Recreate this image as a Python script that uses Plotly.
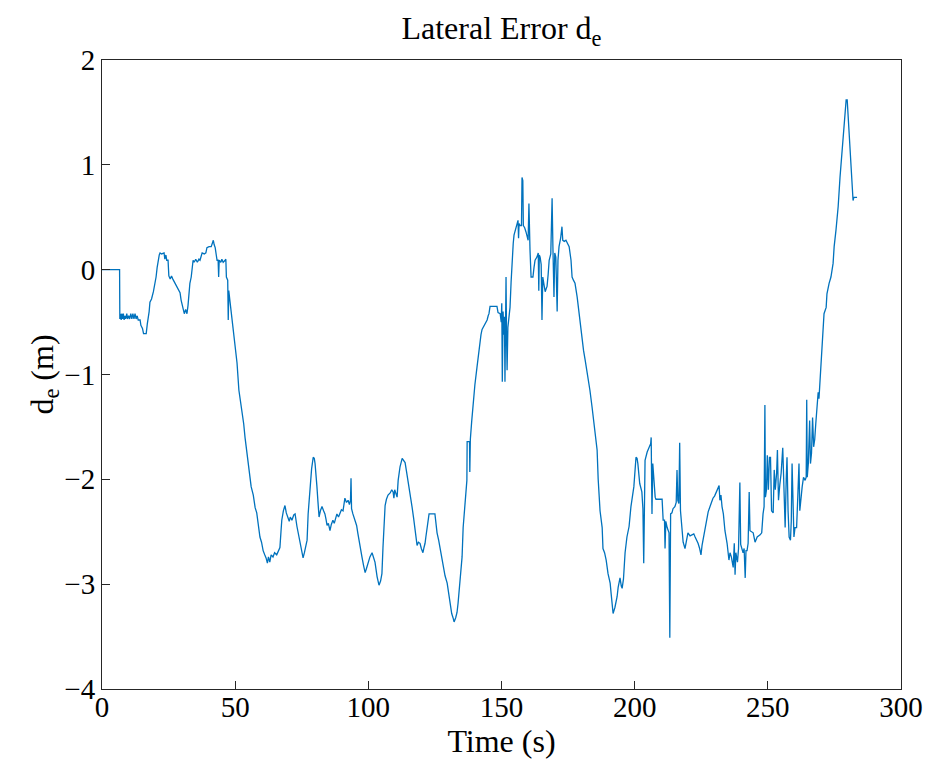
import plotly.graph_objects as go

# Lateral error trace: time (s) and lateral error d_e (m)
time_s = [
    0, 6.6, 6.7, 7.0, 7.2, 7.5, 7.7, 8.0, 8.3, 8.6, 8.9, 9.3, 9.6, 10.0, 10.4, 10.8, 11.2, 11.6, 12.0, 12.4,
    12.8, 13.2, 13.6, 14.3, 14.6, 15.2, 15.6, 16.6, 17.0, 17.3, 17.7, 18.0, 18.6, 19.3, 19.8, 20.3, 20.7, 21.1,
    21.5, 21.8, 22.4, 23.3, 23.6, 24.0, 24.3, 24.8, 25.1, 25.6, 26.1, 26.6, 27.2, 28.1, 28.7, 29.3, 29.7, 30.1,
    30.6, 30.9, 31.4, 31.9, 32.3, 32.7, 33.0, 33.5, 33.9, 34.2, 34.6, 35.2, 35.8, 36.4, 36.8, 37.3, 37.6, 38.4,
    39.0, 39.4, 40.2, 41.0, 41.5, 41.8, 42.1, 42.5, 42.9, 43.2, 43.6, 43.8, 44.0, 44.6, 45.0, 45.5, 46.2, 46.5,
    46.7, 47.2, 47.4, 47.6, 48.0, 48.6, 49.2, 50.0, 50.7,
    51.4, 52.0, 52.6, 53.2, 53.7, 54.3, 54.8, 55.3, 56.0, 56.8, 57.5, 58.1, 58.6, 59.3, 59.9, 60.5, 61.1, 61.6,
    62.1, 62.5, 63.0, 63.5, 64.2, 64.8, 65.6, 66.2, 66.8, 67.2, 67.5, 68.1, 68.7, 69.2, 69.8, 70.3, 70.7, 71.3,
    72.0, 72.5, 73.2, 73.8, 74.4, 75.0, 75.5, 76.0, 76.5, 77.0, 77.4, 78.1, 78.7, 79.3, 79.7, 80.0, 80.4, 80.7,
    81.1, 81.5, 82.0, 82.6, 83.2, 83.7, 84.1, 84.5, 85.0, 85.6, 86.1, 86.7, 87.2, 87.6, 88.2, 88.8, 89.4, 89.9,
    90.5, 90.9, 91.2, 91.8, 92.4, 92.9, 93.3, 93.5, 93.7, 94.2, 95.0, 95.6, 96.1, 96.9, 97.6, 98.2, 98.8, 99.3,
    99.9, 100.6, 101.4, 102.0, 102.5, 103.3, 104.0, 104.6, 105.1, 105.5, 105.9, 106.3, 106.8, 107.4, 108.2,
    108.8, 109.3, 109.6, 109.9, 110.3, 110.8, 111.2, 111.9, 112.7, 113.2, 113.8, 114.3, 114.9, 115.6, 116.4,
    117.0, 117.5, 117.9, 118.3, 118.8, 119.4, 119.9, 120.5, 120.9, 121.3, 121.6, 122.0, 122.4, 122.8, 125.0,
    125.4, 125.8, 126.4, 126.9, 127.5, 128.0, 128.8, 129.6, 130.2, 130.7, 131.3, 131.8, 132.2, 132.8, 133.3,
    133.7, 134.1, 134.4, 134.8, 135.2, 135.6, 136.3, 136.7, 137.0, 137.1, 138.0, 138.1, 138.3, 138.8, 139.3,
    140.0, 140.8, 141.4, 141.9, 142.3, 142.7, 143.1, 143.7, 144.6, 145.0, 145.3, 145.7, 148.3, 148.7, 149.5,
    149.9, 150.1, 150.3, 150.6, 150.9, 151.1, 151.3, 151.5, 151.7, 151.9, 152.1, 152.4, 152.8, 153.2, 153.6,
    154.0, 154.4, 154.7, 155.1, 155.5, 155.9, 156.2, 156.4, 156.6, 157.0, 157.5, 157.7, 158.0, 158.2, 158.7,
    159.2, 159.7, 160.0, 160.3, 160.5, 160.7, 161.1, 161.8, 162.2, 162.6, 163.3, 163.8, 164.0, 164.2, 164.5,
    164.9, 165.2, 165.5, 166.0, 166.4, 166.8, 167.1, 167.5, 167.9, 168.5, 169.0, 169.3, 169.7, 170.0, 170.4,
    170.9, 171.2, 171.6, 172.2, 172.7, 173.0, 173.6, 174.2, 174.8, 175.4, 176.1, 176.5, 177.0, 177.6, 178.4,
    179.1, 179.7, 180.2, 180.8, 181.4, 182.0, 182.5, 183.2, 184.0, 184.8, 185.4, 185.9, 186.3, 186.7, 187.0,
    187.8, 188.1, 188.7, 189.3, 190.0, 190.8, 191.2, 191.5, 191.9, 192.6, 193.4, 193.8, 194.5, 195.0, 195.3,
    195.8, 196.4, 197.1, 197.9, 198.6, 199.2, 199.7, 200.5, 200.9, 201.2, 201.9, 202.7, 203.1, 203.4, 203.6,
    203.9, 204.7, 205.4, 206.0, 206.2, 206.5, 206.8, 207.2, 207.7, 208.0, 210.3, 210.7, 211.2, 211.4, 211.7,
    212.2, 212.9, 213.2, 213.5, 214.0, 214.4, 215.1, 215.6, 215.9, 216.2, 216.6, 216.9, 217.2, 217.8, 218.2,
    218.9, 219.5, 220.0, 220.8, 221.6, 222.2, 222.7, 223.3, 223.8, 224.4, 224.9, 225.3, 225.7, 226.3, 226.8,
    227.6, 228.7, 229.4, 230.0, 230.6, 231.1, 231.7, 232.0, 232.4, 232.8, 233.3, 233.9, 234.7, 235.4, 235.8,
    236.3, 237.0, 237.4, 237.7, 238.0, 238.6, 239.0, 239.5, 239.8, 240.3, 240.7, 241.1, 241.5, 241.8, 242.2,
    242.6, 243.0, 243.3, 244.0, 244.5, 245.2, 246.0, 247.1, 247.7, 248.2, 248.6, 248.9, 249.1, 249.5, 249.8,
    250.2, 250.6, 251.0, 251.4, 252.0, 252.4, 252.8, 253.3, 253.6, 254.0, 254.5, 255.0, 255.6, 256.0, 256.5,
    256.9, 257.2, 257.6, 258.0, 258.5, 258.8, 259.1, 259.4, 259.8, 260.2, 260.8, 261.2, 261.7, 262.0, 262.5,
    262.9, 263.4, 264.0, 264.4, 264.6, 264.8, 265.2, 265.7, 266.0, 266.4, 266.8, 267.2, 267.6, 268.0, 268.6,
    268.9, 269.2, 269.6, 270.0, 270.4, 270.7, 271.1, 271.9, 272.2, 273.0, 273.7, 274.5, 274.9, 275.6, 276.4,
    277.1, 277.9, 278.3, 279.0, 279.4, 279.8, 280.1, 280.5, 280.9, 281.3, 281.6, 282.0, 282.3, 283.5,
]

lateral_err = [
    0, 0, -0.47, -0.42, -0.48, -0.42, -0.47, -0.42, -0.48, -0.44, -0.47, -0.42, -0.47, -0.44, -0.47, -0.42, -0.47, -0.42, -0.47, -0.42,
    -0.47, -0.44, -0.48, -0.48, -0.53, -0.56, -0.61, -0.61, -0.52, -0.48, -0.40, -0.31, -0.28, -0.21, -0.15, -0.07, 0.02, 0.09,
    0.14, 0.16, 0.15, 0.16, 0.10, 0.14, 0.09, 0.09, -0.06, -0.09, -0.06, -0.09, -0.12, -0.16, -0.20, -0.22, -0.29, -0.34,
    -0.38, -0.42, -0.38, -0.42, -0.34, -0.22, -0.13, -0.07, 0.03, 0.09, 0.07, 0.10, 0.07, 0.10, 0.09, 0.14, 0.16, 0.15,
    0.16, 0.21, 0.22, 0.22, 0.25, 0.28, 0.24, 0.21, 0.14, 0.09, 0.09, -0.07, 0.09, 0.07, 0.10, 0.07, 0.09, 0.10,
    -0.07, -0.10, -0.48, -0.20, -0.29, -0.42, -0.58, -0.74, -0.89,
    -1.15, -1.25, -1.37, -1.47, -1.60, -1.72, -1.85, -1.90, -2.07, -2.15, -2.27, -2.32, -2.42, -2.55, -2.60, -2.68, -2.72, -2.75,
    -2.80, -2.74, -2.79, -2.72, -2.74, -2.70, -2.72, -2.68, -2.65, -2.50, -2.39, -2.30, -2.25, -2.32, -2.36, -2.40, -2.36, -2.39,
    -2.34, -2.33, -2.45, -2.53, -2.61, -2.68, -2.75, -2.70, -2.65, -2.58, -2.33, -2.07, -1.90, -1.79, -1.80, -1.85, -1.95, -2.07,
    -2.22, -2.36, -2.30, -2.26, -2.30, -2.33, -2.38, -2.44, -2.42, -2.49, -2.43, -2.39, -2.42, -2.37, -2.33, -2.36, -2.33, -2.29,
    -2.30, -2.25, -2.18, -2.22, -2.20, -2.24, -2.20, -1.99, -2.28, -2.33, -2.39, -2.44, -2.52, -2.62, -2.74, -2.82, -2.89, -2.85,
    -2.80, -2.74, -2.70, -2.74, -2.79, -2.93, -3.01, -2.97, -2.90, -2.65, -2.42, -2.25, -2.19, -2.15, -2.13,
    -2.10, -2.12, -2.18, -2.10, -2.14, -2.17, -2.01, -1.88, -1.80, -1.82, -1.84, -1.92, -2.01, -2.14, -2.26,
    -2.37, -2.46, -2.55, -2.63, -2.60, -2.61, -2.66, -2.70, -2.65, -2.61, -2.55, -2.46, -2.39, -2.33, -2.33,
    -2.45, -2.51, -2.58, -2.65, -2.75, -2.84, -2.92, -2.99, -3.10, -3.20, -3.28, -3.32, -3.36, -3.32, -3.27,
    -3.18, -3.07, -2.96, -2.80, -2.74, -2.46, -2.22, -2.12, -2.01, -1.64, -1.64, -1.93, -1.62, -1.45, -1.28,
    -1.10, -0.93, -0.79, -0.67, -0.62, -0.57, -0.55, -0.52, -0.48, -0.44, -0.42, -0.35, -0.35, -0.41, -0.42,
    -0.50, -0.32, -1.07, -0.40, -0.62, -0.45, -1.07, -0.50, -0.07, -0.65, -0.96, -0.55, -0.45, -0.36, -0.12,
    0.12, 0.25, 0.33, 0.37, 0.41, 0.44, 0.47, 0.30, 0.44, 0.42, 0.42, 0.88, 0.85, 0.42, 0.40,
    0.36, 0.32, 0.28, 0.63, 0.25, 0.19, -0.07, -0.07, 0.02, 0.09, 0.12, 0.16, -0.20, 0.14, 0.12,
    0.05, -0.48, -0.07, -0.15, -0.21, -0.18, -0.16, -0.05, 0.09, 0.15, 0.68, 0.22, -0.26, 0.16, 0.12,
    -0.40, 0.09, 0.22, 0.30, 0.41, 0.28, 0.27, 0.28, 0.25, 0.22, 0.09, -0.07, -0.10, -0.13, -0.26,
    -0.42, -0.55, -0.67, -0.77, -0.86, -0.95, -1.05, -1.15, -1.31, -1.50, -1.62, -1.72, -2.00, -2.15, -2.30,
    -2.46, -2.66, -2.70, -2.77, -2.90, -2.99, -3.10, -3.18, -3.28, -3.22, -3.12, -3.03, -2.94, -3.02, -3.04,
    -2.95, -2.70, -2.55, -2.45, -2.26, -2.15, -2.07, -1.79, -1.80, -1.85, -2.04, -2.12, -2.28, -2.80, -2.10,
    -1.82, -1.74, -1.70, -1.66, -1.60, -2.33, -1.85, -2.00, -2.17, -2.19, -2.19, -2.39, -2.39, -2.66, -2.40,
    -2.46, -2.51, -3.51, -2.33, -2.32, -2.28, -2.26, -2.22, -1.91, -2.20, -2.23, -1.65, -2.30, -2.51, -2.60,
    -2.66, -2.58, -2.51, -2.54, -2.53, -2.52, -2.55, -2.58, -2.61, -2.66, -2.72, -2.63, -2.58, -2.50, -2.42,
    -2.31, -2.23, -2.18, -2.16, -2.13, -2.10, -2.06, -2.20, -2.15, -2.26, -2.33, -2.49, -2.61, -2.77, -2.70,
    -2.74, -2.84, -2.61, -2.91, -2.70, -2.79, -2.66, -2.03, -2.62, -2.68, -2.70, -2.66, -2.94, -2.68, -2.68,
    -2.61, -2.12, -2.49, -2.50, -2.51, -2.60, -2.55, -2.53, -2.51, -2.33, -2.26, -1.29, -2.17, -2.10, -1.77,
    -2.10, -1.79, -1.79, -2.30, -2.32, -1.91, -2.10, -1.94, -1.72, -2.20, -2.05, -1.94, -1.70, -2.10, -2.46,
    -2.00, -1.79, -2.30, -2.55, -2.58, -2.40, -1.85, -2.30, -2.55, -2.46, -2.46, -2.20, -1.85, -2.30, -2.15,
    -2.07, -1.98, -2.01, -1.98, -1.24, -1.98, -1.85, -1.44, -1.85, -1.75, -1.41, -1.69, -1.62, -1.47, -1.30,
    -1.17, -1.23, -1.05, -0.92, -0.80, -0.61, -0.42, -0.36, -0.23, -0.13, -0.07, 0.06, 0.22, 0.38, 0.60,
    0.88, 1.11, 1.30, 1.49, 1.62, 1.62, 1.49, 1.24, 1.08, 0.95, 0.73, 0.66, 0.69, 0.69,
]

x_ticks = [0, 50, 100, 150, 200, 250, 300]
y_ticks = [-4, -3, -2, -1, 0, 1, 2]

axis_color = "#262626"
serif = "Liberation Serif, DejaVu Serif, serif"

fig = go.Figure(
    go.Scatter(
        x=time_s,
        y=lateral_err,
        mode="lines",
        line=dict(color="#0072BD", width=1.3),
        showlegend=False,
    )
)

common_axis = dict(
    showline=True,
    mirror=True,
    linecolor=axis_color,
    linewidth=1,
    ticks="inside",
    ticklen=8,
    tickwidth=1,
    tickcolor=axis_color,
    showgrid=False,
    zeroline=False,
    automargin=False,
    tickfont=dict(family=serif, size=29, color="black"),
)

fig.update_layout(
    width=927,
    height=761,
    margin=dict(l=102, r=26, t=60, b=72),
    paper_bgcolor="white",
    plot_bgcolor="white",
    title=dict(
        text="Lateral Error d<sub>e</sub>",
        x=0.5,
        xref="paper",
        xanchor="center",
        y=1 - 28 / 761,
        yanchor="middle",
        font=dict(family=serif, size=32, color="black"),
    ),
    xaxis=dict(
        common_axis,
        range=[0, 300],
        tickvals=x_ticks,
        ticklabelstandoff=-8,
        title=dict(text="Time (s)", font=dict(family=serif, size=32, color="black"), standoff=0),
    ),
    yaxis=dict(
        common_axis,
        range=[-4, 2],
        tickvals=y_ticks,
        title=dict(text="d<sub>e</sub> (m)", font=dict(family=serif, size=32, color="black"), standoff=0),
    ),
)

fig.write_html("out.html")
